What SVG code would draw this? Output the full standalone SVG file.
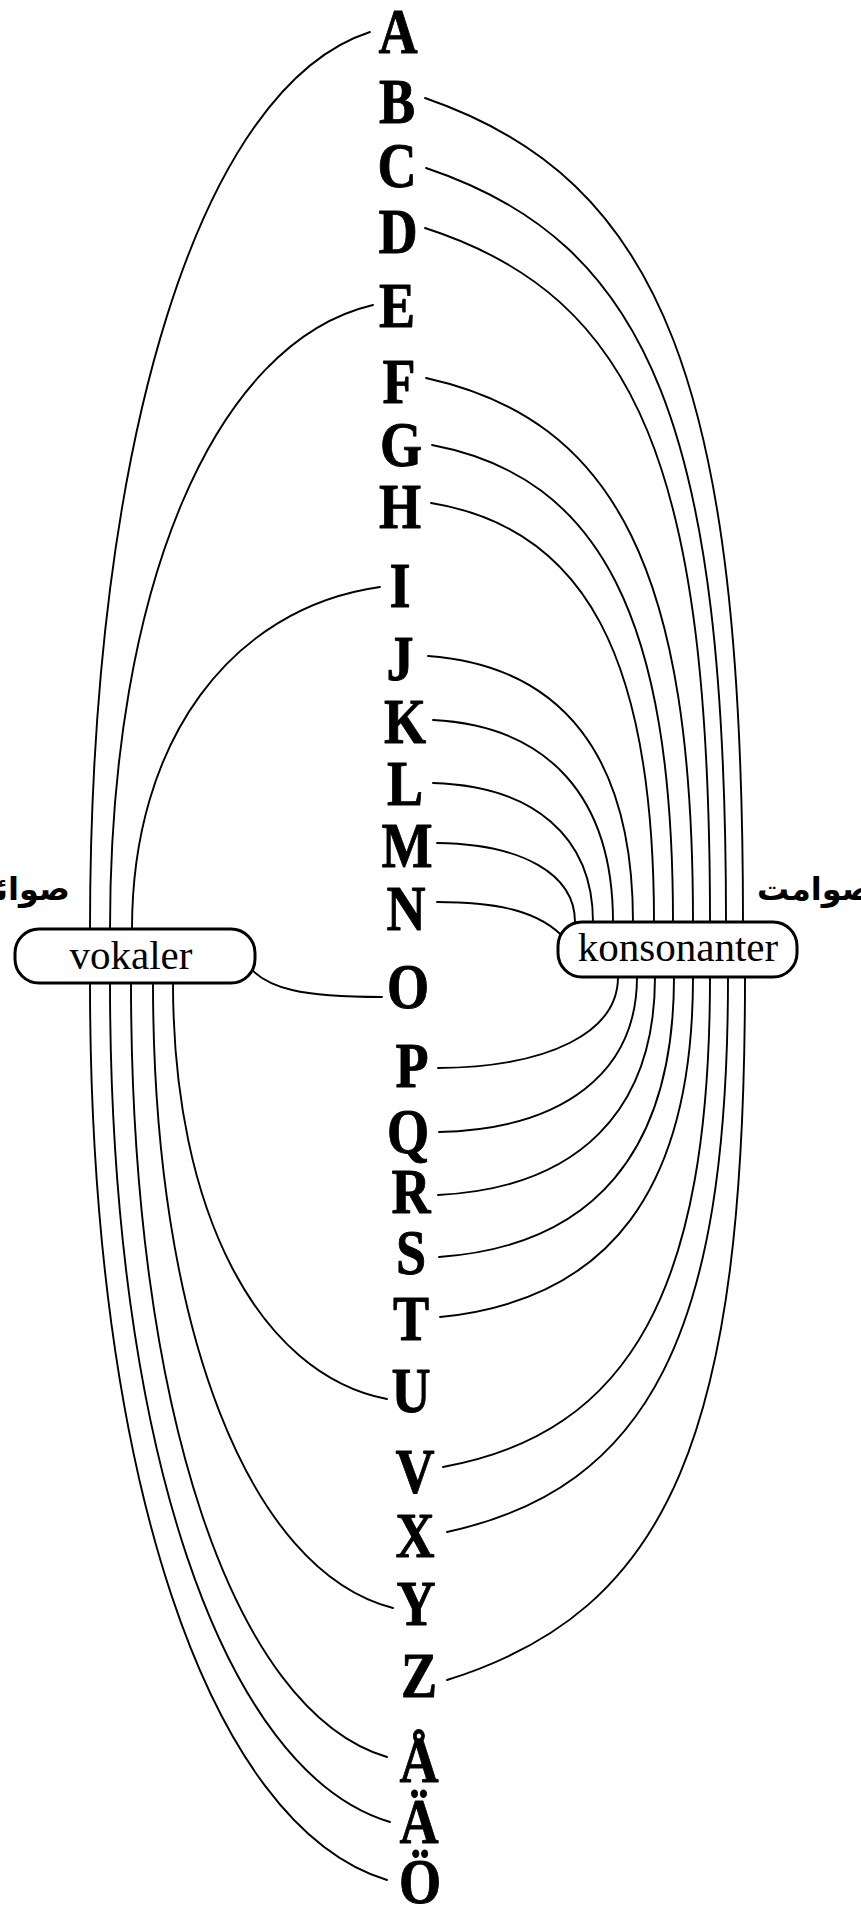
<svg xmlns="http://www.w3.org/2000/svg" width="861" height="1906" viewBox="0 0 861 1906">
  <style>
    .c { fill: none; stroke: #000; stroke-width: 1.9; stroke-linecap: round; }
    .box { fill: #fff; stroke: #000; stroke-width: 3; }
    .lt { font-family: "Liberation Serif", "Times New Roman", serif; font-weight: bold; font-size: 63px; text-anchor: middle; fill: #000; stroke: #000; stroke-width: 0.9; stroke-linejoin: round; }
    .bt { font-family: "Liberation Serif", "Times New Roman", serif; font-size: 41px; text-anchor: middle; fill: #000; }
    .ar { font-family: "DejaVu Sans", sans-serif; font-weight: bold; font-size: 32px; fill: #000; }
  </style>
  <rect width="861" height="1906" fill="#fff"/>

  <!-- connectors: vowels to the left box, consonants to the right box -->
  <g id="connectors">
    <!-- vowels above the box -->
    <path class="c" d="M370,32 C202,86 90,436 90,929 L90,945"/>
    <path class="c" d="M373,305 C215,342 110,586 110,929 L110,945"/>
    <path class="c" d="M380,587 C231,608 132,741 132,929 L132,945"/>
    <!-- O from the box side -->
    <path class="c" d="M245,962 C265,990 305,997 382,997"/>
    <!-- vowels below the box -->
    <path class="c" d="M173,965 L173,983 C173,1212 259,1374 387,1399"/>
    <path class="c" d="M153,965 L153,983 C153,1327 249,1571 393,1608"/>
    <path class="c" d="M131,965 L131,983 C131,1409 233,1711 387,1757"/>
    <path class="c" d="M110,965 L110,983 C110,1444 222,1772 390,1822"/>
    <path class="c" d="M90,965 L90,983 C90,1476 209,1826 387,1880"/>

    <!-- consonants above the box -->
    <path class="c" d="M425,98 C663,180 743,386 743,922 L743,940"/>
    <path class="c" d="M426,168 C651,243 726,432 726,922 L726,940"/>
    <path class="c" d="M425,228 C639,297 710,471 710,922 L710,940"/>
    <path class="c" d="M426,378 C617,420 693,574 693,922 L693,940"/>
    <path class="c" d="M432,445 C601,477 673,620 673,922 L673,940"/>
    <path class="c" d="M431,503 C585,528 654,658 654,922 L654,940"/>
    <path class="c" d="M428,656 C563,666 633,757 633,922 L633,940"/>
    <path class="c" d="M433,720 C549,726 613,798 613,922 L613,940"/>
    <path class="c" d="M433,783 C534,786 593,837 593,922 L593,940"/>
    <path class="c" d="M437,843 C522,844 575,874 575,922 L575,940"/>
    <path class="c" d="M437,902 C495,902 540,910 566,940"/>
    <!-- consonants below the box -->
    <path class="c" d="M618,960 L618,977 C618,1032 550,1067 438,1068"/>
    <path class="c" d="M637,960 L637,977 C637,1072 564,1129 439,1132"/>
    <path class="c" d="M655,960 L655,977 C655,1111 578,1188 438,1195"/>
    <path class="c" d="M674,960 L674,977 C674,1151 594,1246 439,1257"/>
    <path class="c" d="M693,960 L693,977 C693,1189 610,1300 440,1317"/>
    <path class="c" d="M710,960 L710,977 C710,1288 631,1433 443,1467"/>
    <path class="c" d="M728,960 L728,977 C728,1332 649,1488 447,1532"/>
    <path class="c" d="M745,960 L745,977 C745,1434 671,1610 447,1680"/>
  </g>

  <!-- group boxes -->
  <g id="vokaler">
    <rect class="box" x="15" y="929" width="240" height="54" rx="24"/>
    <text class="bt" x="131" y="969">vokaler</text>
  </g>
  <g id="konsonanter">
    <rect class="box" x="558" y="922" width="239" height="55" rx="24"/>
    <text class="bt" x="678" y="961">konsonanter</text>
  </g>
  <g id="label-vowels">
    <text class="ar" x="70" y="900" text-anchor="end">صوائت</text>
  </g>
  <g id="label-consonants">
    <text class="ar" x="757" y="900" text-anchor="start">صوامت</text>
  </g>

  <!-- alphabet column -->
  <g id="n-A" transform="translate(398,53) scale(0.86,1)"><text class="lt">A</text></g>
  <g id="n-B" transform="translate(397,123) scale(0.86,1)"><text class="lt">B</text></g>
  <g id="n-C" transform="translate(397,187) scale(0.86,1)"><text class="lt">C</text></g>
  <g id="n-D" transform="translate(398,253) scale(0.86,1)"><text class="lt">D</text></g>
  <g id="n-E" transform="translate(397,327) scale(0.86,1)"><text class="lt">E</text></g>
  <g id="n-F" transform="translate(399,403) scale(0.86,1)"><text class="lt">F</text></g>
  <g id="n-G" transform="translate(401,466) scale(0.86,1)"><text class="lt">G</text></g>
  <g id="n-H" transform="translate(400,528) scale(0.86,1)"><text class="lt">H</text></g>
  <g id="n-I" transform="translate(400,607) scale(0.86,1)"><text class="lt">I</text></g>
  <g id="n-J" transform="translate(400,680) scale(0.86,1)"><text class="lt">J</text></g>
  <g id="n-K" transform="translate(405,743) scale(0.86,1)"><text class="lt">K</text></g>
  <g id="n-L" transform="translate(405,805) scale(0.86,1)"><text class="lt">L</text></g>
  <g id="n-M" transform="translate(407,867) scale(0.86,1)"><text class="lt">M</text></g>
  <g id="n-N" transform="translate(406,930) scale(0.86,1)"><text class="lt">N</text></g>
  <g id="n-O" transform="translate(408,1008) scale(0.86,1)"><text class="lt">O</text></g>
  <g id="n-P" transform="translate(412,1087) scale(0.86,1)"><text class="lt">P</text></g>
  <g id="n-Q" transform="translate(408,1153) scale(0.86,1)"><text class="lt">Q</text></g>
  <g id="n-R" transform="translate(411,1213) scale(0.86,1)"><text class="lt">R</text></g>
  <g id="n-S" transform="translate(411,1274) scale(0.86,1)"><text class="lt">S</text></g>
  <g id="n-T" transform="translate(411,1340) scale(0.86,1)"><text class="lt">T</text></g>
  <g id="n-U" transform="translate(411,1412) scale(0.86,1)"><text class="lt">U</text></g>
  <g id="n-V" transform="translate(415,1493) scale(0.86,1)"><text class="lt">V</text></g>
  <g id="n-X" transform="translate(415,1557) scale(0.86,1)"><text class="lt">X</text></g>
  <g id="n-Y" transform="translate(416,1625) scale(0.86,1)"><text class="lt">Y</text></g>
  <g id="n-Z" transform="translate(419,1697) scale(0.86,1)"><text class="lt">Z</text></g>
  <g id="n-AA" transform="translate(419,1782) scale(0.86,1)"><text class="lt">Å</text></g>
  <g id="n-AE" transform="translate(419,1843) scale(0.86,1)"><text class="lt">Ä</text></g>
  <g id="n-OE" transform="translate(420,1903) scale(0.86,1)"><text class="lt">Ö</text></g>
</svg>
